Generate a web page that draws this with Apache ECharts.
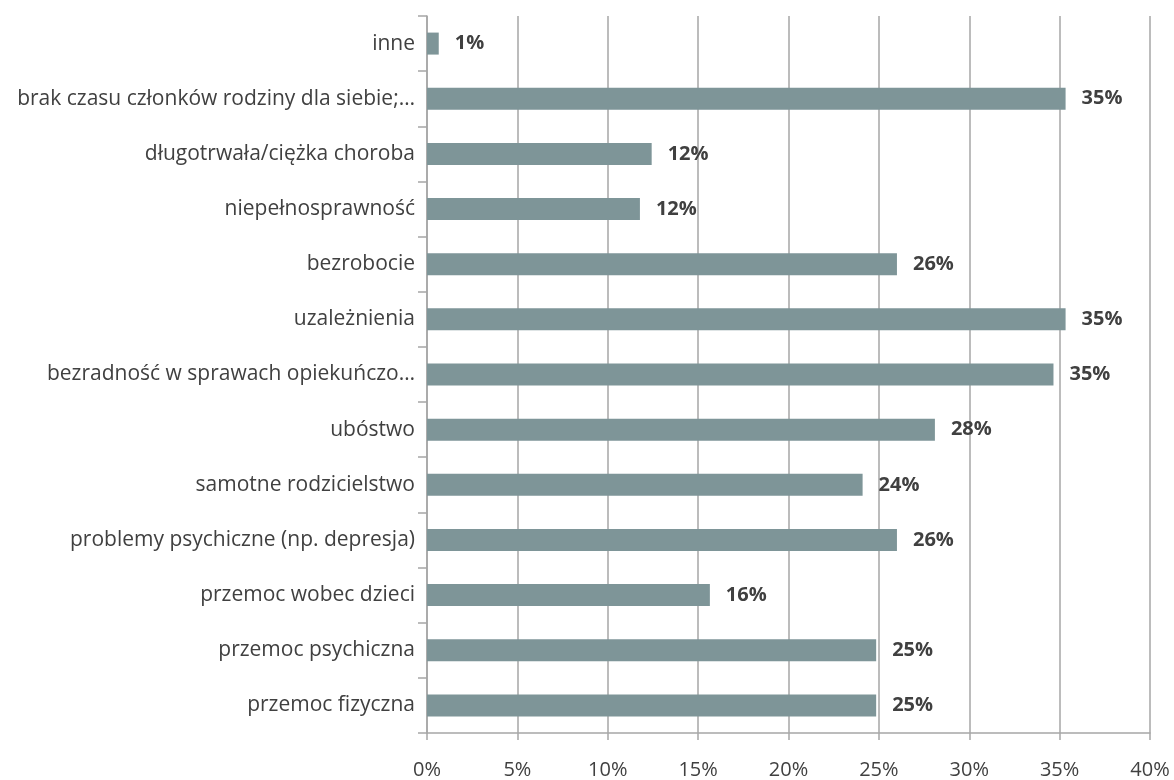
<!DOCTYPE html>
<html>
<head>
<meta charset="utf-8">
<script src="https://cdn.jsdelivr.net/npm/echarts@6/dist/echarts.min.js"></script>
<style>
html,body{margin:0;padding:0;background:#fff;}
#chart{width:1174px;height:780px;}
</style>
</head>
<body>
<div id="chart"></div>
<script>
// categories listed bottom to top
const categories = [
  'przemoc fizyczna',
  'przemoc psychiczna',
  'przemoc wobec dzieci',
  'problemy psychiczne (np. depresja)',
  'samotne rodzicielstwo',
  'ubóstwo',
  'bezradność w sprawach opiekuńczo…',
  'uzależnienia',
  'bezrobocie',
  'niepełnosprawność',
  'długotrwała/ciężka choroba',
  'brak czasu członków rodziny dla siebie;…',
  'inne'
];
const values = [24.85, 24.85, 15.65, 26.0, 24.1, 28.1, 34.66, 35.33, 26.0, 11.78, 12.43, 35.33, 0.65];
const valueLabels = ['25%', '25%', '16%', '26%', '24%', '28%', '35%', '35%', '26%', '12%', '12%', '35%', '1%'];
const xTicks = [0, 5, 10, 15, 20, 25, 30, 35, 40];

const FONT = 'Open Sans';
const chart = echarts.init(document.getElementById('chart'));
chart.setOption({
  animation: false,
  backgroundColor: '#ffffff',
  grid: { left: 427, right: 24, top: 16, bottom: 47, containLabel: false },
  xAxis: {
    type: 'value',
    min: xTicks[0],
    max: xTicks[xTicks.length - 1],
    interval: 5,
    axisLine: { show: true, lineStyle: { color: '#a6a6a6', width: 1.5 } },
    axisTick: { show: true, length: 7, lineStyle: { color: '#a6a6a6', width: 1.5 } },
    splitLine: { show: true, lineStyle: { color: '#a6a6a6', width: 1.5 } },
    axisLabel: { formatter: v => v + '%', color: '#404040', fontFamily: FONT, fontSize: 20, margin: 27 }
  },
  yAxis: {
    type: 'category',
    data: categories,
    axisLine: { show: true, lineStyle: { color: '#a6a6a6', width: 1.5 } },
    axisTick: { show: true, length: 9, lineStyle: { color: '#a6a6a6', width: 1.5 } },
    axisLabel: { color: '#404040', fontFamily: FONT, fontSize: 21, margin: 12 }
  },
  series: [{
    type: 'bar',
    data: values,
    barWidth: 22,
    itemStyle: { color: '#7e9598' },
    label: {
      show: true,
      position: 'right',
      distance: 16,
      formatter: p => valueLabels[p.dataIndex],
      color: '#404040',
      fontFamily: FONT,
      fontWeight: 'bold',
      fontSize: 20
    }
  }]
});
</script>
</body>
</html>
